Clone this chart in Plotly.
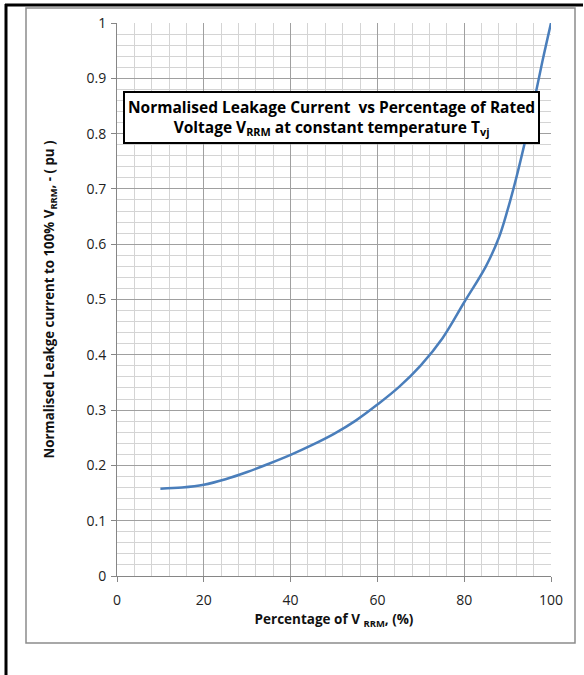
import plotly.graph_objects as go

pct_vrrm = [10, 15, 20, 25, 30, 35, 40, 45, 50, 55, 60, 65, 70, 75, 80, 85, 88, 90, 92, 94, 96, 98, 100]
leakage = [0.158, 0.160, 0.165, 0.175, 0.188, 0.203, 0.219, 0.237, 0.257, 0.281, 0.310, 0.342,
           0.381, 0.430, 0.495, 0.560, 0.612, 0.662, 0.72, 0.785, 0.855, 0.93, 1.0]

x_ticks = [0, 20, 40, 60, 80, 100]
y_ticks = [0, 0.1, 0.2, 0.3, 0.4, 0.5, 0.6, 0.7, 0.8, 0.9, 1]

W, H = 584, 675
L, R, T, B = 117, 551, 23, 576

def px(x):
    return (x - L) / (R - L)

def py(y):
    return (B - y) / (B - T)

fig = go.Figure()
fig.add_trace(go.Scatter(x=pct_vrrm, y=leakage, mode="lines", line=dict(color="#4a7ebb", width=2.5, shape="spline"),
                         showlegend=False, hoverinfo="skip"))

font_family = "Open Sans, Noto Sans, sans-serif"
fig.update_layout(
    width=W, height=H,
    margin=dict(l=L, r=W - R, t=T, b=H - B, autoexpand=False),
    paper_bgcolor="white", plot_bgcolor="white",
    font=dict(family=font_family, color="#222222"),
    xaxis=dict(range=[0, 100], tickvals=x_ticks, ticks="outside", ticklen=5, tickcolor="#868686",
               showline=True, linecolor="#868686", linewidth=1, mirror=False, automargin=False,
               showgrid=True, gridcolor="#a0a0a0", gridwidth=1, zeroline=False,
               minor=dict(dtick=4, showgrid=True, gridcolor="#d4d4d4", gridwidth=1),
               tickfont=dict(size=14, color="#222222"), ticklabelstandoff=6,
               title=dict(text="<b>Percentage of V <sub>RRM</sub>, (%)</b>", font=dict(size=13.5, color="#111111"), standoff=6)),
    yaxis=dict(range=[0, 1], tickvals=y_ticks, ticktext=[str(v) for v in y_ticks], ticks="outside", ticklen=5, tickcolor="#868686",
               showline=True, linecolor="#868686", linewidth=1, automargin=False,
               showgrid=True, gridcolor="#a0a0a0", gridwidth=1, zeroline=False,
               minor=dict(dtick=0.02, showgrid=True, gridcolor="#d4d4d4", gridwidth=1),
               tickfont=dict(size=14, color="#222222"), ticklabelstandoff=2,
               title=dict(text="<b>Normalised Leakge current to 100% V<sub>RRM</sub>, - ( pu )</b>", font=dict(size=13.3, color="#111111"), standoff=28)),
)

# outer frame: gray chart-area border
fig.add_shape(type="rect", xref="paper", yref="paper", x0=px(26), x1=px(575), y0=py(643), y1=py(8),
              line=dict(color="#8c8c8c", width=1.5), layer="below")
# black frame lines (top and left)
fig.add_shape(type="line", xref="paper", yref="paper", x0=px(5), x1=px(583), y0=py(5), y1=py(5),
              line=dict(color="black", width=3))
fig.add_shape(type="line", xref="paper", yref="paper", x0=px(6), x1=px(6), y0=py(4), y1=py(676),
              line=dict(color="black", width=3))

fig.add_annotation(xref="paper", yref="paper", x=px(331.5), y=py(117), xanchor="center", yanchor="middle",
                   text="<b>Normalised Leakage Current  vs Percentage of Rated<br>Voltage V<sub>RRM</sub> at constant temperature T<sub>vj</sub></b>",
                   showarrow=False, align="center", font=dict(size=15.5, color="black", family=font_family),
                   bgcolor="white", bordercolor="black", borderwidth=2, borderpad=3)

fig.write_html("out.html", config={"displayModeBar": False},
               post_script="document.body.style.margin='0';document.body.style.overflow='hidden';")
